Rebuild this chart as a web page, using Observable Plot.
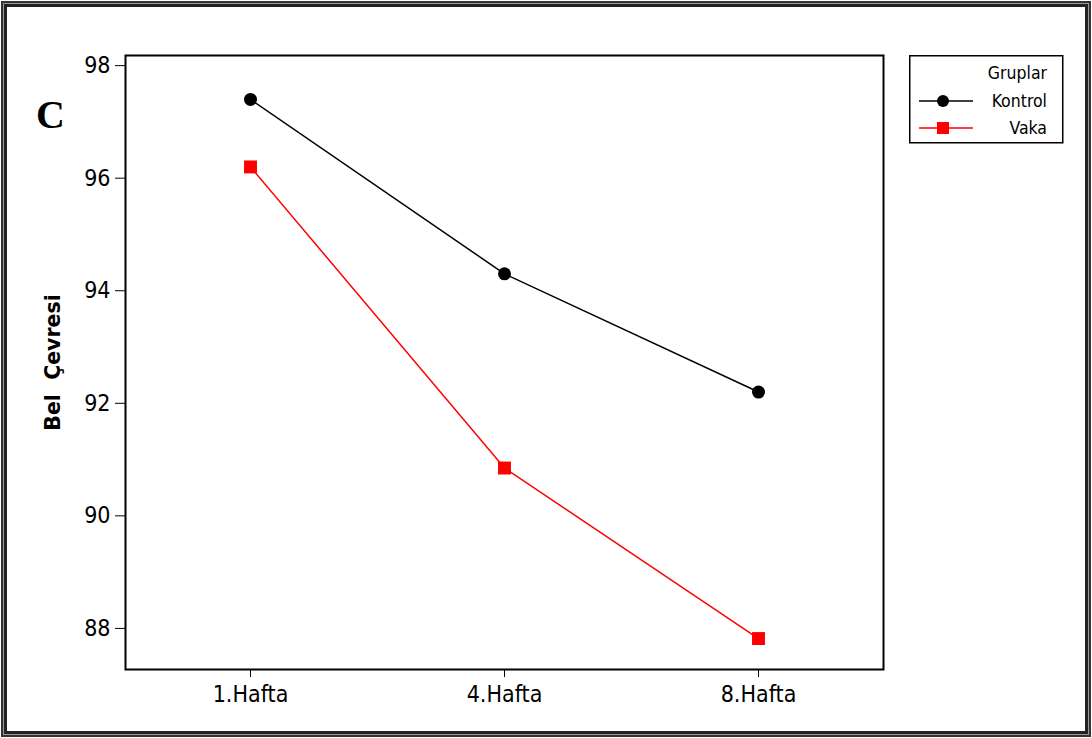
<!DOCTYPE html>
<html>
<head>
<meta charset="utf-8">
<script src="https://cdn.jsdelivr.net/npm/d3@7"></script>
<script src="https://cdn.jsdelivr.net/npm/@observablehq/plot@0.6"></script>
<style>
  html, body { margin: 0; padding: 0; background: #fff; }
  #wrap { position: relative; width: 1092px; height: 738px; overflow: hidden; }
  #border { position: absolute; left: 1px; top: 1px; width: 1090px; height: 736px; box-sizing: border-box; border: 2px solid #333; box-shadow: inset 0 0 0 1px #999, inset 0 0 0 4px #222; pointer-events: none; }
  #letter { position: absolute; left: 36px; top: 95px; font-family: "Liberation Serif", "DejaVu Serif", serif; font-weight: bold; font-size: 40px; line-height: 1; }
  #legend { position: absolute; left: 909px; top: 55px; }
  svg text { font-family: "DejaVu Sans Condensed", "Liberation Sans", sans-serif; }
  g[aria-label="x-axis tick label"], g[aria-label="y-axis tick label"] { font-size: 23px; }
  [aria-label="y-axis label"] text, [aria-label="y-axis label"] { font-weight: bold; font-size: 20.5px; font-family: "DejaVu Sans", sans-serif; }
</style>
</head>
<body>
<div id="wrap">
  <div id="chart"></div>
  <div id="letter">C</div>
  <div id="legend"></div>
  <div id="border"></div>
</div>
<script>
const weeks = ["1.Hafta", "4.Hafta", "8.Hafta"];
const groups = ["Kontrol", "Vaka"];
const kontrol = [97.4, 94.3, 92.2];
const vaka = [96.2, 90.85, 87.82];
const yTicks = [88, 90, 92, 94, 96, 98];
const colors = ["#000000", "#ff0000"];

const data = [];
weeks.forEach((w, i) => {
  data.push({week: w, group: groups[0], value: kontrol[i]});
  data.push({week: w, group: groups[1], value: vaka[i]});
});

const kData = data.filter(d => d.group === "Kontrol");
const vData = data.filter(d => d.group === "Vaka");

const chart = Plot.plot({
  width: 1092,
  height: 738,
  marginLeft: 125,
  marginRight: 209,
  marginTop: 55,
  marginBottom: 69,
  style: {fontSize: "22px", fontFamily: "'DejaVu Sans Condensed', 'Liberation Sans', sans-serif", background: "white", color: "#000"},
  x: {type: "point", domain: weeks, padding: 0.49},
  y: {domain: [87.27, 98.18]},
  color: {domain: groups, range: colors},
  marks: [
    Plot.frame({stroke: "#000", strokeWidth: 2}),
    Plot.axisX({ticks: weeks, tickSize: 8, tickPadding: 8, label: null, fontSize: 23}),
    Plot.axisY({ticks: yTicks, tickSize: 10, tickPadding: 5, label: "Bel  Çevresi", labelAnchor: "center", labelArrow: "none", labelOffset: 80, fontSize: 23}),
    Plot.line(data, {x: "week", y: "value", stroke: "group", strokeWidth: 1.5, z: "group"}),
    Plot.dot(kData, {x: "week", y: "value", fill: "#000", r: 6.5, symbol: "circle"}),
    Plot.dot(vData, {x: "week", y: "value", fill: "#ff0000", r: 7.3, symbol: "square"})
  ]
});
document.getElementById("chart").appendChild(chart);

// legend
const lg = d3.select("#legend").append("svg").attr("width", 155).attr("height", 89)
  .style("font-family", "'DejaVu Sans Condensed', 'Liberation Sans', sans-serif");
lg.append("rect").attr("x", 0.75).attr("y", 0.75).attr("width", 153).attr("height", 87)
  .attr("fill", "white").attr("stroke", "#000").attr("stroke-width", 1.5);
lg.append("text").attr("x", 138).attr("y", 18).attr("text-anchor", "end").attr("dy", "0.35em")
  .attr("font-size", 17.5).text("Gruplar");
groups.forEach((g, i) => {
  const yy = 46 + i * 27;
  lg.append("line").attr("x1", 10).attr("x2", 64).attr("y1", yy).attr("y2", yy)
    .attr("stroke", colors[i]).attr("stroke-width", 1.5);
  if (i === 0) lg.append("circle").attr("cx", 34).attr("cy", yy).attr("r", 6).attr("fill", colors[i]);
  else lg.append("rect").attr("x", 28).attr("y", yy - 6).attr("width", 12).attr("height", 12).attr("fill", colors[i]);
  lg.append("text").attr("x", 138).attr("y", yy).attr("text-anchor", "end").attr("dy", "0.35em")
    .attr("font-size", 17.5).text(g);
});
</script>
</body>
</html>
